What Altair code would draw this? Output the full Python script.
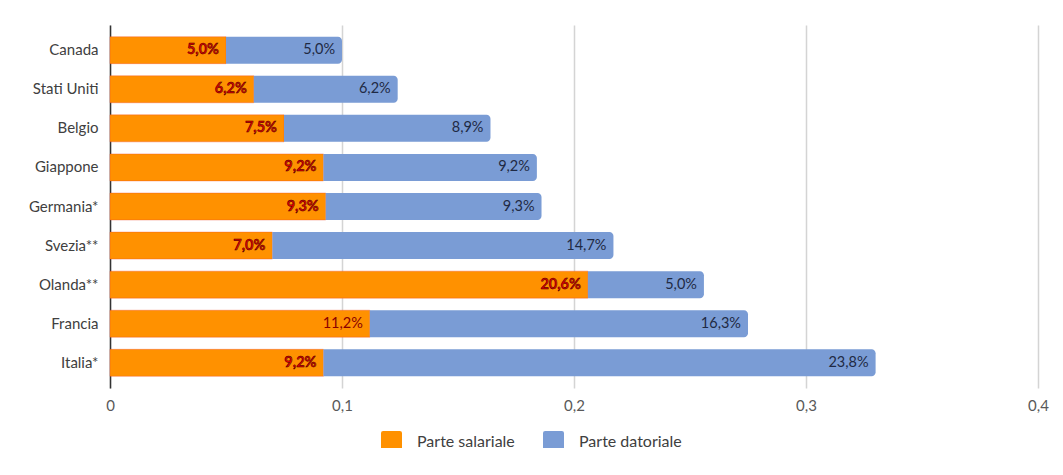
import altair as alt
import pandas as pd

paesi = ["Canada", "Stati Uniti", "Belgio", "Giappone", "Germania*", "Svezia**", "Olanda**", "Francia", "Italia*"]
salariale = [5.0, 6.2, 7.5, 9.2, 9.3, 7.0, 20.6, 11.2, 9.2]
datoriale = [5.0, 6.2, 8.9, 9.2, 9.3, 14.7, 5.0, 16.3, 23.8]
bold_sal = [True, True, True, True, True, True, True, False, True]
serie = ["Parte salariale", "Parte datoriale"]
colori = ["#FF9100", "#7A9CD5"]
x_ticks = [0, 0.1, 0.2, 0.3, 0.4]

rows = []
for p, s, d, b in zip(paesi, salariale, datoriale, bold_sal):
    rows.append({"paese": p, "serie": serie[0], "v": s, "x0": 0.0, "x1": s / 100, "bold": b})
    rows.append({"paese": p, "serie": serie[1], "v": d, "x0": s / 100, "x1": (s + d) / 100, "bold": False})
df = pd.DataFrame(rows)

FONT = "Lato"

base = alt.Chart(df).transform_calculate(
    lab="replace(format(datum.v, '.1f'), '.', ',') + '%'"
)

yenc = alt.Y("paese:N", sort=paesi, title=None,
             scale=alt.Scale(paddingInner=0.31, paddingOuter=0.3),
             axis=alt.Axis(labelFontSize=15, labelColor="#404040", labelFont=FONT,
                           labelPadding=12, ticks=False, domain=True,
                           domainColor="#333333", domainWidth=1.5, grid=False))
xenc = alt.X("x0:Q", title=None,
             scale=alt.Scale(domain=[0, 0.4], nice=False),
             axis=alt.Axis(values=x_ticks, labelExpr="replace(datum.label, '.', ',')",
                           format="~g", labelFontSize=15, labelColor="#595959", labelFont=FONT,
                           labelPadding=10, labelFlush=False, ticks=False, domain=False,
                           grid=True, gridColor="#d4d4d4", gridWidth=1.5))
cenc = alt.Color("serie:N", scale=alt.Scale(domain=serie, range=colori),
                 legend=alt.Legend(title=None, orient="none", direction="horizontal",
                                   legendX=271, legendY=406,
                                   symbolType="M-0.8,-1L0.8,-1Q1,-1 1,-0.8L1,0.8Q1,1 0.8,1L-0.8,1Q-1,1 -1,0.8L-1,-0.8Q-1,-1 -0.8,-1Z",
                                   symbolSize=441, symbolStrokeWidth=0,
                                   labelFontSize=16, labelColor="#404040", labelFont=FONT,
                                   labelOffset=15, columnPadding=28, padding=0))

bar_sal = base.transform_filter(alt.datum.serie == serie[0]).mark_bar(
    stroke="#f04a2a", strokeWidth=0.6, strokeOpacity=0.6
).encode(y=yenc, x=xenc, x2="x1:Q", color=cenc)

bar_dat = base.transform_filter(alt.datum.serie == serie[1]).mark_bar(
    cornerRadiusTopRight=4, cornerRadiusBottomRight=4
).encode(y=yenc, x=xenc, x2="x1:Q", color=cenc)

txt_sal_b = base.transform_filter((alt.datum.serie == serie[0]) & (alt.datum.bold == True)).mark_text(
    align="right", baseline="middle", dx=-7, font=FONT, fontSize=14.5, fontWeight="bold",
    fill="#dd0000", stroke="#3a0000", strokeWidth=0.45
).encode(y=alt.Y("paese:N", sort=paesi), x=alt.X("x1:Q"), text="lab:N")

txt_sal_n = base.transform_filter((alt.datum.serie == serie[0]) & (alt.datum.bold == False)).mark_text(
    align="right", baseline="middle", dx=-7, font=FONT, fontSize=14.5, fontWeight="normal",
    fill="#8a0000"
).encode(y=alt.Y("paese:N", sort=paesi), x=alt.X("x1:Q"), text="lab:N")

txt_dat = base.transform_filter(alt.datum.serie == serie[1]).mark_text(
    align="right", baseline="middle", dx=-7, font=FONT, fontSize=14.5, color="#1f2a44"
).encode(y=alt.Y("paese:N", sort=paesi), x=alt.X("x1:Q"), text="lab:N")

chart = alt.layer(bar_sal, bar_dat, txt_sal_b, txt_sal_n, txt_dat).properties(
    width=928, height=363,
    autosize=alt.AutoSizeParams(type="none"),
    padding={"left": 102, "top": 17, "right": 17, "bottom": 60},
    background="white"
).configure_view(stroke=None)

chart.save("out.html", embed_options={"renderer": "svg", "actions": False})
